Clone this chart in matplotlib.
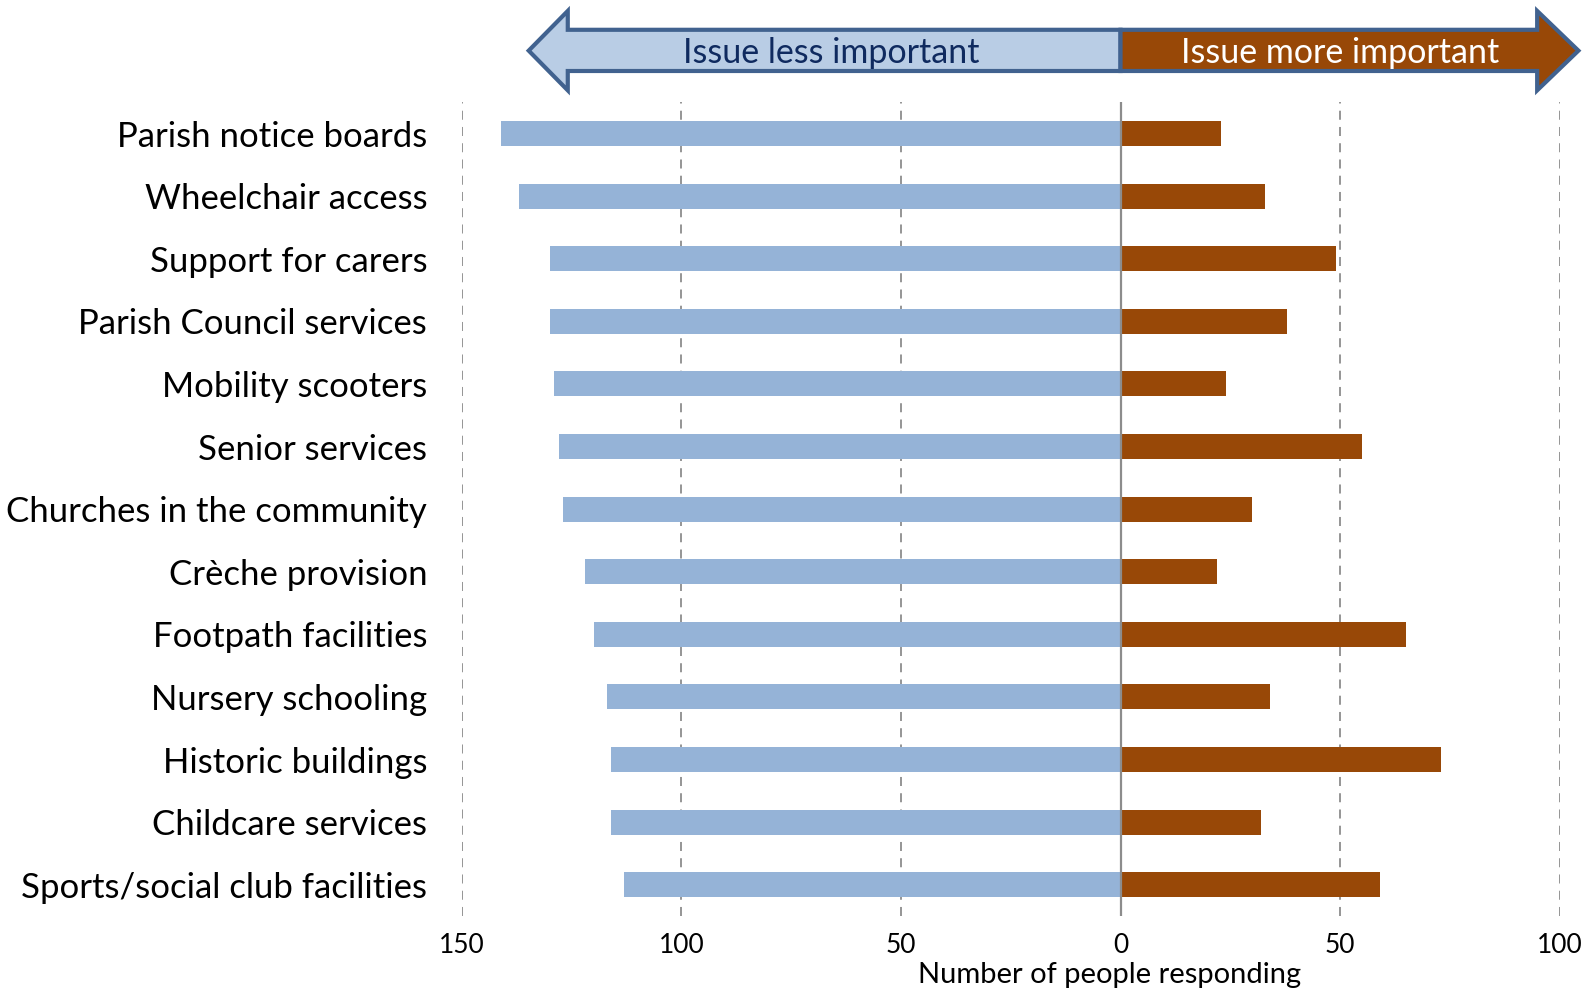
import matplotlib
matplotlib.use("Agg")
import matplotlib.pyplot as plt
from matplotlib.patches import Polygon
from matplotlib.transforms import blended_transform_factory

plt.rcParams['font.family'] = ['Lato', 'DejaVu Sans']

categories = ["Parish notice boards", "Wheelchair access", "Support for carers",
              "Parish Council services", "Mobility scooters", "Senior services",
              "Churches in the community", "Crèche provision", "Footpath facilities",
              "Nursery schooling", "Historic buildings", "Childcare services",
              "Sports/social club facilities"]
less_important = [141, 137, 130, 130, 129, 128, 127, 122, 120, 117, 116, 116, 113]
more_important = [23, 33, 49, 38, 24, 55, 30, 22, 65, 34, 73, 32, 59]
xticks = [-150, -100, -50, 0, 50, 100]
xticklabels = ["150", "100", "50", "0", "50", "100"]

BLUE = "#95B3D7"
BROWN = "#984807"

fig = plt.figure(figsize=(15.93, 9.93), dpi=100)
ax = fig.add_axes([0.290, 0.0775, 0.689, 0.8195])

y = list(range(len(categories)))
ax.barh(y, [-v for v in less_important], height=0.4, color=BLUE, zorder=2)
ax.barh(y, more_important, height=0.4, color=BROWN, zorder=2)

ax.set_xlim(-150, 100)
ax.set_ylim(len(categories) - 0.5, -0.5)
ax.set_yticks(y)
ax.set_yticklabels(categories, fontsize=25)
ax.set_xticks(xticks)
ax.set_xticklabels(xticklabels, fontsize=19)
ax.tick_params(length=0)
ax.tick_params(axis='y', pad=25)
ax.tick_params(axis='x', pad=12)
for s in ax.spines.values():
    s.set_visible(False)

for t in xticks:
    if t == 0:
        ax.axvline(0, color="#8c8c8c", lw=1.6, zorder=3)
    else:
        ax.axvline(t, color="#8c8c8c", lw=1.3, ls=(0, (5, 4)), zorder=1)

lab = ax.set_xlabel("Number of people responding", fontsize=21, va='center')
ax.xaxis.set_label_coords(0.590, -0.073)

# double arrow header
tr = blended_transform_factory(ax.transData, fig.transFigure)
ht, st, c, sb, hb = 0.989, 0.970, 0.949, 0.9285, 0.909
lt, lb, rb, rt = -134.8, -125.9, 94.9, 104.3
left = Polygon([(0, st), (lb, st), (lb, ht), (lt, c), (lb, hb), (lb, sb), (0, sb)],
               closed=True, transform=tr, facecolor="#B9CDE5", edgecolor="#41628F",
               lw=3, clip_on=False, joinstyle='miter')
right = Polygon([(0, st), (rb, st), (rb, ht), (rt, c), (rb, hb), (rb, sb), (0, sb)],
                closed=True, transform=tr, facecolor=BROWN, edgecolor="#41628F",
                lw=3, clip_on=False, joinstyle='miter')
ax.add_patch(left)
ax.add_patch(right)
ax.text(-66, c - 0.002, "Issue less important", transform=tr, ha='center', va='center',
        fontsize=24.5, color="#0F2A5F")
ax.text(50, c - 0.002, "Issue more important", transform=tr, ha='center', va='center',
        fontsize=24.5, color="white")

fig.savefig("out.png", dpi=100)
